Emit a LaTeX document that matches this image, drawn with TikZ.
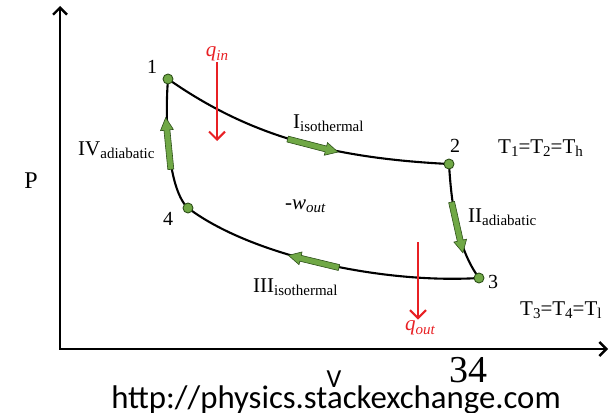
\documentclass[tikz,border=0pt]{standalone}
\usepackage{fontspec}
\setmainfont{Liberation Serif}
\newfontfamily\slidefont{Carlito}
\usepackage{xcolor}
\definecolor{leaf}{RGB}{112,168,70}
\definecolor{leafdark}{RGB}{45,80,25}
\definecolor{heatred}{RGB}{232,32,36}
\usetikzlibrary{arrows.meta,shapes.arrows}
\newcommand{\lsub}[1]{\raisebox{-0.35ex}{\fontsize{15}{15}\selectfont #1}}
\tikzset{
  axis/.style={line width=2.4pt,{Straight Barb[length=7pt,width=14pt]}-{Straight Barb[length=7pt,width=14pt]}},
  path line/.style={line width=2.1pt},
  state/.style={circle,draw=leafdark,fill=leaf,line width=0.9pt,minimum size=10pt,inner sep=0pt},
  flowarrow/.style={single arrow,draw=leafdark,fill=leaf,line width=0.6pt,inner sep=2.7pt,single arrow head extend=3.5pt,single arrow tip angle=55,minimum height=52pt,sloped,allow upside down},
  heat/.style={heatred,line width=2.1pt,-{Straight Barb[length=8pt,width=16pt]}},
  heatlbl/.style={heatred,font=\fontsize{21}{21}\selectfont\itshape,inner sep=1pt},
  lbl/.style={font=\fontsize{21}{21}\selectfont,inner sep=0pt,anchor=base west},
  num/.style={font=\fontsize{20}{20}\selectfont,inner sep=0pt,anchor=base},
}
\begin{document}
\begin{tikzpicture}[x=1pt,y=-1pt]
\useasboundingbox (0,0) rectangle (612,412);
% axes
\coordinate (ytop) at (60,6);
\coordinate (xend) at (608,349);
\draw[axis] (ytop) |- (xend);
\node[font=\fontsize{24}{24}\selectfont,anchor=base,inner sep=0pt] (plbl) at (31,188) {P};
\node[font=\slidefont\fontsize{26}{26}\selectfont,anchor=base,inner sep=0pt] (vlbl) at (334,387) {V};
% corners of the cycle
\coordinate (c1) at (168,79);
\coordinate (c2) at (449,164);
\coordinate (c3) at (479,278);
\coordinate (c4) at (188,208);
\draw[path line] (c1) .. controls (248,135) and (329,158) .. (c2) node[flowarrow,pos=0.56] (flowI) {};
\draw[path line] (c2) .. controls (452,215) and (460,252) .. (c3) node[flowarrow,pos=0.45] (flowII) {};
\draw[path line] (c3) .. controls (380,284) and (250,255) .. (c4) node[flowarrow,pos=0.51] (flowIII) {};
\draw[path line] (c4) .. controls (170,192) and (164,130) .. (c1) node[flowarrow,pos=0.57] (flowIV) {};
\node[state] (s1) at (c1) {};
\node[state] (s2) at (c2) {};
\node[state] (s3) at (c3) {};
\node[state] (s4) at (c4) {};
\node[num] (n1) at (152,73) {1};
\node[num] (n2) at (455,152) {2};
\node[num] (n3) at (493,288) {3};
\node[num] (n4) at (168,225) {4};
% process labels
\node[lbl] (lblI) at (293,128) {I\lsub{isothermal}};
\node[lbl] (lblII) at (468,222) {II\lsub{adiabatic}};
\node[lbl] (lblIII) at (253,292) {III\lsub{isothermal}};
\node[lbl] (lblIV) at (78,155) {IV\lsub{adiabatic}};
\node[lbl] (work) at (285,209) {-\textit{w}\lsub{\textit{out}}};
\node[lbl] (thot) at (498,153) {T\lsub{1}=T\lsub{2}=T\lsub{h}};
\node[lbl] (tcold) at (520,315) {T\lsub{3}=T\lsub{4}=T\lsub{l}};
% heat
\node[heatlbl] (qin) at (217,54) {q\lsub{in}};
\coordinate (qintip) at (217,141);
\draw[heat] (qin.south) -- (qintip);
\coordinate (qoutstart) at (418,242);
\node[heatlbl] (qout) at (420,328) {q\lsub{out}};
\draw[heat] (qoutstart) -- (qout.north -| qoutstart);
% slide
\node[font=\fontsize{38}{38}\selectfont,anchor=base,inner sep=0pt] (page) at (468,382) {34};
\node[font=\slidefont\fontsize{32.8}{32.8}\selectfont,anchor=base,inner sep=0pt] (src) at (336,408) {http://physics.stackexchange.com};
\end{tikzpicture}
\end{document}
